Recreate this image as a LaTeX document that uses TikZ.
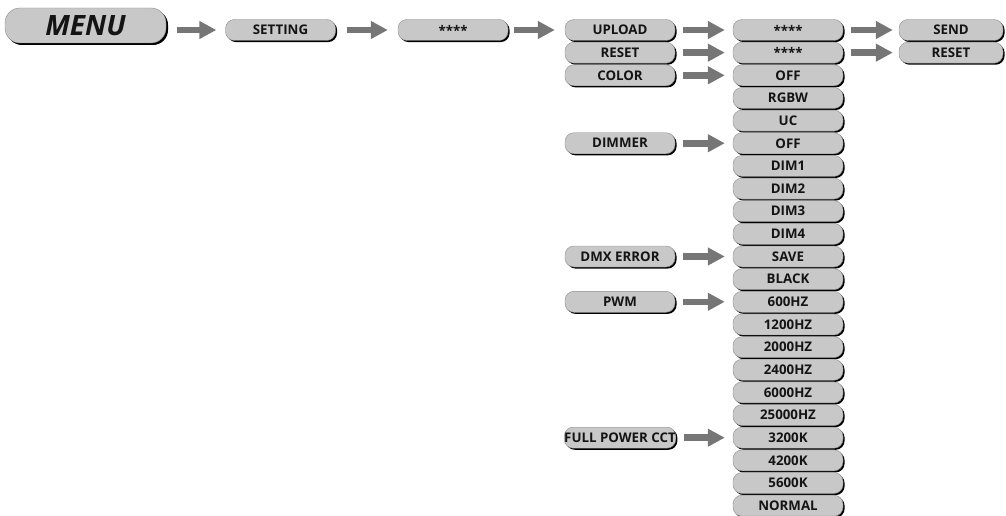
\documentclass[tikz,border=0pt]{standalone}
\usepackage{fontspec}
\setmainfont{Open Sans}
\usetikzlibrary{shadows,arrows.meta}
\definecolor{boxfill}{RGB}{200,200,200}
\definecolor{arrowfill}{RGB}{118,118,118}
\definecolor{txt}{RGB}{20,20,20}
\tikzset{
 menubox/.style={draw=black!45, line width=0.4pt, fill=boxfill, rounded corners=9pt,
   minimum width=110pt, minimum height=21pt, inner sep=0pt,
   font=\bfseries\fontsize{13.3}{15}\selectfont, text=txt,
   drop shadow={shadow xshift=1.6pt, shadow yshift=-1.6pt, fill=black, opacity=1}},
 bigbox/.style={menubox, minimum width=161pt, minimum height=35pt, rounded corners=15pt,
   font=\bfseries\itshape\fontsize{28}{30}\selectfont,
   drop shadow={shadow xshift=2pt, shadow yshift=-2pt, fill=black, opacity=1}},
 flow/.style={draw=arrowfill, line width=6.5pt, -{Triangle[width=17pt,length=17pt]},
   shorten <=8pt, shorten >=8pt},
}
\begin{document}
\begin{tikzpicture}[x=1pt,y=-1pt]
\useasboundingbox (0,0) rectangle (1006,516);
% top row
\node[bigbox] (menu) at (85.5,25.5) {MENU};
\node[menubox] (setting) at (280.5,30) {SETTING};
\node[menubox] (pass) at (453,30) {****};
% main column
\foreach \i/\t in {0/UPLOAD,1/RESET,2/COLOR,5/DIMMER,10/DMX ERROR,12/PWM,18/FULL POWER CCT}
  \node[menubox] (a\i) at (620,30+22.65*\i) {\t};
% second column
\foreach \i/\t in {0/****,1/****,2/OFF,3/RGBW,4/UC,5/OFF,6/DIM1,7/DIM2,8/DIM3,9/DIM4,10/SAVE,11/BLACK,12/600HZ,13/1200HZ,14/2000HZ,15/2400HZ,16/6000HZ,17/25000HZ,18/3200K,19/4200K,20/5600K,21/NORMAL}
  \node[menubox] (b\i) at (788,30+22.65*\i) {\t};
% third column
\node[menubox, minimum width=104pt] (c0) at (951,30) {SEND};
\node[menubox, minimum width=104pt] (c1) at (951,30+22.65) {RESET};
% arrows
\draw[flow, shorten <=11pt, shorten >=9pt] (menu.east |- setting.west) -- (setting.west);
\draw[flow, shorten <=11pt, shorten >=10pt] (setting.east) -- (pass.west);
\draw[flow, shorten <=6pt, shorten >=10pt] (pass.east) -- (a0.west);
\foreach \i in {0,1,2,5,10,12,18}
  \draw[flow] (a\i.east) -- (b\i.west);
\draw[flow, shorten >=6pt] (b0.east) -- (c0.west);
\draw[flow, shorten >=6pt] (b1.east) -- (c1.west);
\end{tikzpicture}
\end{document}
